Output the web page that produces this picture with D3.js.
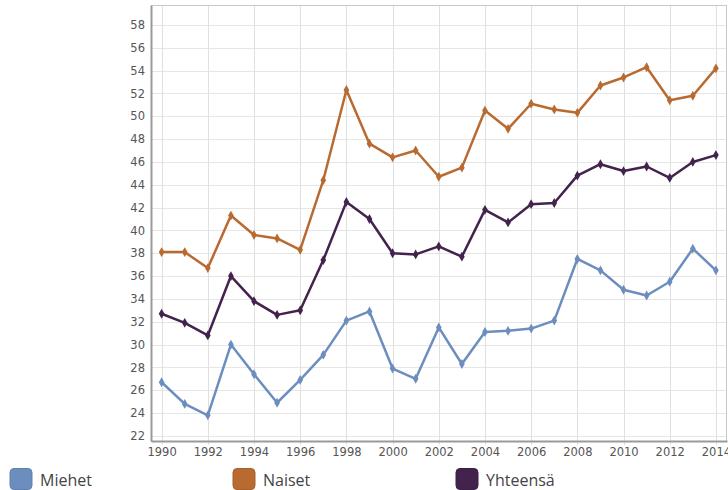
<!DOCTYPE html>
<html>
<head>
<meta charset="utf-8">
<script src="https://cdn.jsdelivr.net/npm/d3@7"></script>
<style>
  html, body { margin: 0; padding: 0; background: #fff; }
  svg { display: block; }
</style>
</head>
<body>
<svg id="chart" width="728" height="490"></svg>
<script>
const years = d3.range(1990, 2015);
const miehet = [26.7, 24.8, 23.8, 30.0, 27.4, 24.9, 26.9, 29.1, 32.1, 32.9, 27.9, 27.0, 31.5, 28.3, 31.1, 31.2, 31.4, 32.1, 37.5, 36.5, 34.8, 34.3, 35.5, 38.4, 36.5];
const naiset = [38.1, 38.1, 36.7, 41.3, 39.6, 39.3, 38.3, 44.4, 52.3, 47.6, 46.4, 47.0, 44.7, 45.5, 50.5, 48.9, 51.1, 50.6, 50.3, 52.7, 53.4, 54.3, 51.4, 51.8, 54.2];
const yhteensa = [32.7, 31.9, 30.8, 36.0, 33.8, 32.6, 33.0, 37.4, 42.5, 41.0, 38.0, 37.9, 38.6, 37.7, 41.8, 40.7, 42.3, 42.4, 44.8, 45.8, 45.2, 45.6, 44.6, 46.0, 46.6];
const seriesNames = ["Miehet", "Naiset", "Yhteensä"];
const seriesColors = ["#6c8ebf", "#b96a31", "#43234d"];
const yTicks = d3.range(22, 59, 2);
const xTicks = d3.range(1990, 2015, 2);

const svg = d3.select("#chart");
const plot = { left: 151, top: 5, right: 727, bottom: 441 };

const x = d3.scaleLinear().domain([1989.54, 2014.48]).range([plot.left, plot.right]);
const y = d3.scaleLinear().domain([21.55, 59.75]).range([plot.bottom, plot.top]);

// grid
const grid = svg.append("g");
grid.selectAll("line.h").data(yTicks).join("line")
  .attr("x1", plot.left).attr("x2", plot.right)
  .attr("y1", d => Math.round(y(d)) + 0.5).attr("y2", d => Math.round(y(d)) + 0.5)
  .attr("stroke", "#e6e6e6").attr("stroke-width", 1);
grid.selectAll("line.v").data(xTicks).join("line")
  .attr("y1", plot.top).attr("y2", plot.bottom + 4)
  .attr("x1", d => Math.round(x(d)) + 0.5).attr("x2", d => Math.round(x(d)) + 0.5)
  .attr("stroke", "#e0e0e0").attr("stroke-width", 1);

// frame
svg.append("rect")
  .attr("x", plot.left + 0.5).attr("y", plot.top + 0.5)
  .attr("width", plot.right - plot.left - 1).attr("height", plot.bottom - plot.top)
  .attr("fill", "none").attr("stroke", "#c8c8c8").attr("stroke-width", 1);

// axes
const yAxis = d3.axisLeft(y).tickValues(yTicks).tickSize(0).tickPadding(6);
const xAxis = d3.axisBottom(x).tickValues(xTicks).tickSize(0).tickFormat(d3.format("d")).tickPadding(7);

const gy = svg.append("g").attr("transform", `translate(${plot.left},0)`).call(yAxis);
const gx = svg.append("g").attr("transform", `translate(0,${plot.bottom})`).call(xAxis);
[gy, gx].forEach(g => {
  g.select(".domain").attr("stroke", "#9a9a9a").attr("stroke-width", 2);
  g.selectAll("text")
    .attr("fill", "#555")
    .style("font-family", "'DejaVu Sans', Verdana, sans-serif")
    .style("font-size", "11.5px");
});

// series
const data = [miehet, naiset, yhteensa];
const line = d3.line().x((d, i) => x(years[i])).y(d => y(d));
const diamond = d3.symbol().type(d3.symbolDiamond).size(28);

data.forEach((vals, s) => {
  svg.append("path")
    .datum(vals)
    .attr("d", line)
    .attr("fill", "none")
    .attr("stroke", seriesColors[s])
    .attr("stroke-width", 2.5)
    .attr("stroke-linejoin", "round");
  svg.append("g").selectAll("path").data(vals).join("path")
    .attr("d", diamond)
    .attr("transform", (d, i) => `translate(${x(years[i])},${y(d)})`)
    .attr("fill", seriesColors[s]);
});

// legend
const legendX = [10, 233, 456];
const legend = svg.append("g");
seriesNames.forEach((name, i) => {
  legend.append("rect")
    .attr("x", legendX[i]).attr("y", 468.5)
    .attr("width", 22).attr("height", 21)
    .attr("rx", 4).attr("ry", 4)
    .attr("fill", seriesColors[i])
    .attr("stroke", d3.color(seriesColors[i]).darker(0.3))
    .attr("stroke-width", 1);
  legend.append("text")
    .attr("x", legendX[i] + 30).attr("y", 486)
    .attr("fill", "#444")
    .style("font-family", "'Liberation Sans Narrow', 'Open Sans', sans-serif")
    .style("font-size", "16px")
    .text(name);
});
</script>
</body>
</html>
